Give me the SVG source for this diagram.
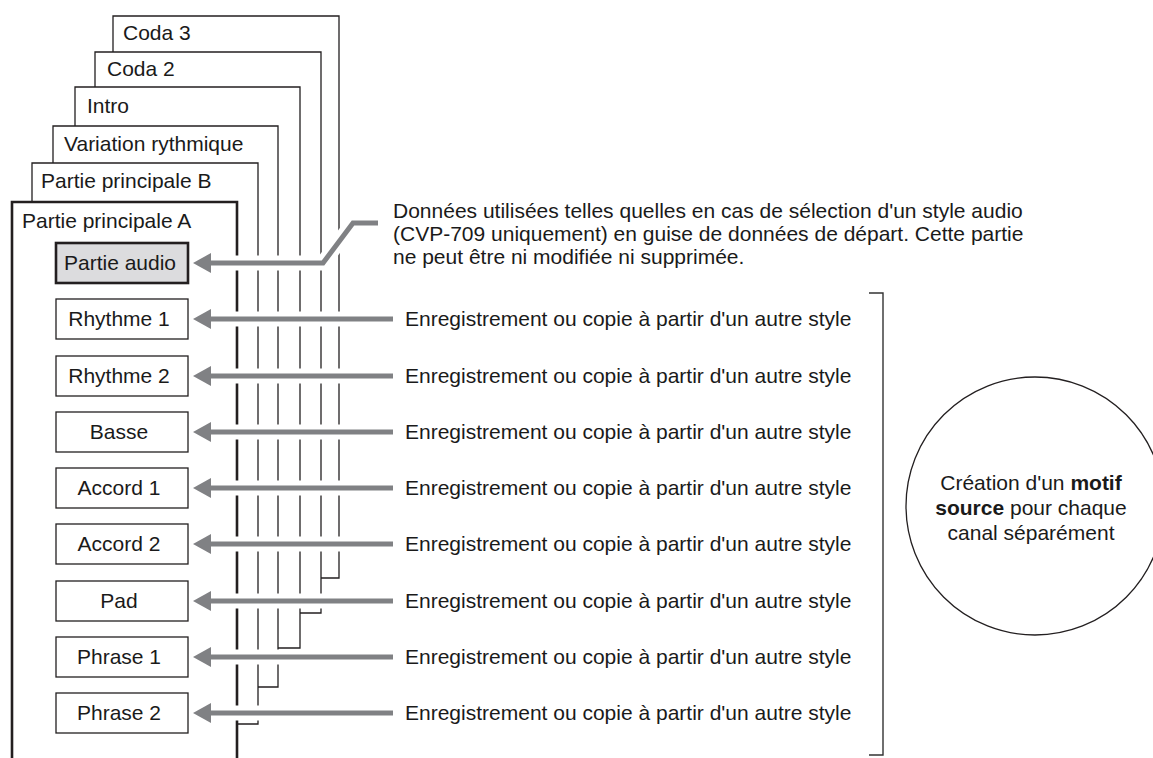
<svg xmlns="http://www.w3.org/2000/svg" width="1153" height="758" viewBox="0 0 1153 758">
<style>
  text { font-family: "Liberation Sans", Arial, sans-serif; font-size: 21px; fill: #1a1a1a; }
  .tab { fill: #ffffff; stroke: #231f20; stroke-width: 1.3; }
  .tabA { fill: #ffffff; stroke: #231f20; stroke-width: 2.6; }
  .box { fill: #ffffff; stroke: #231f20; stroke-width: 1.3; }
  .boxA { fill: #dcdcde; stroke: #231f20; stroke-width: 2.6; }
  .lbl { text-anchor: middle; }
  .halo { fill: none; stroke: #ffffff; stroke-width: 15; }
  .shaft { fill: none; stroke: #808184; stroke-width: 5; }
  .head { fill: #808184; }
  .bold { font-weight: bold; }
</style>
<rect width="1153" height="758" fill="#ffffff"/>

<g id="tab-coda3">
  <path class="tab" d="M113,52 V16 H339 V578 H321"/>
  <text x="123" y="40">Coda 3</text>
</g>
<g id="tab-coda2">
  <path class="tab" d="M95,87 V52 H321 V613 H300"/>
  <text x="107" y="76">Coda 2</text>
</g>
<g id="tab-intro">
  <path class="tab" d="M75,126 V87 H300 V648 H278"/>
  <text x="87" y="113">Intro</text>
</g>
<g id="tab-variation">
  <path class="tab" d="M53,163 V126 H278 V687 H258"/>
  <text x="64" y="151">Variation rythmique</text>
</g>
<g id="tab-principaleB">
  <path class="tab" d="M32,202 V163 H258 V724 H237"/>
  <text x="41" y="188">Partie principale B</text>
</g>
<g id="tab-principaleA">
  <path class="tabA" d="M12,760 V202 H237 V760"/>
  <text x="22" y="228">Partie principale A</text>
</g>

<g id="connectors">
  <path class="halo" d="M216,263 H323 L353,223 H378"/>
  <path class="halo" d="M216,319 H393 M216,376 H393 M216,432 H393 M216,488 H393 M216,544 H393 M216,601 H393 M216,657 H393 M216,713 H393"/>
  <path class="shaft" d="M205,263 H323 L353,223 H378"/>
  <path class="shaft" d="M205,319 H393 M205,376 H393 M205,432 H393 M205,488 H393 M205,544 H393 M205,601 H393 M205,657 H393 M205,713 H393"/>
  <path class="head" d="M193,263 L211,253 V273 Z"/>
  <path class="head" d="M193,319 L211,309 V329 Z"/>
  <path class="head" d="M193,376 L211,366 V386 Z"/>
  <path class="head" d="M193,432 L211,422 V442 Z"/>
  <path class="head" d="M193,488 L211,478 V498 Z"/>
  <path class="head" d="M193,544 L211,534 V554 Z"/>
  <path class="head" d="M193,601 L211,591 V611 Z"/>
  <path class="head" d="M193,657 L211,647 V667 Z"/>
  <path class="head" d="M193,713 L211,703 V723 Z"/>
  <path fill="none" stroke="#333333" stroke-width="1.4" d="M869,293 H883 V755 H869"/>
</g>

<g id="box-audio">
  <rect class="boxA" x="56" y="243" width="132" height="40"/>
  <text class="lbl" x="120" y="270">Partie audio</text>
</g>
<g id="box-rhythme1">
  <rect class="box" x="56" y="299" width="132" height="40"/>
  <text class="lbl" x="119" y="326">Rhythme 1</text>
</g>
<g id="box-rhythme2">
  <rect class="box" x="56" y="356" width="132" height="40"/>
  <text class="lbl" x="119" y="383">Rhythme 2</text>
</g>
<g id="box-basse">
  <rect class="box" x="56" y="412" width="132" height="40"/>
  <text class="lbl" x="119" y="439">Basse</text>
</g>
<g id="box-accord1">
  <rect class="box" x="56" y="468" width="132" height="40"/>
  <text class="lbl" x="119" y="495">Accord 1</text>
</g>
<g id="box-accord2">
  <rect class="box" x="56" y="524" width="132" height="40"/>
  <text class="lbl" x="119" y="551">Accord 2</text>
</g>
<g id="box-pad">
  <rect class="box" x="56" y="581" width="132" height="40"/>
  <text class="lbl" x="119" y="608">Pad</text>
</g>
<g id="box-phrase1">
  <rect class="box" x="56" y="637" width="132" height="40"/>
  <text class="lbl" x="119" y="664">Phrase 1</text>
</g>
<g id="box-phrase2">
  <rect class="box" x="56" y="693" width="132" height="40"/>
  <text class="lbl" x="119" y="720">Phrase 2</text>
</g>

<g id="note-audio">
  <text x="393" y="218">Données utilisées telles quelles en cas de sélection d'un style audio</text>
  <text x="393" y="241">(CVP-709 uniquement) en guise de données de départ. Cette partie</text>
  <text x="393" y="264">ne peut être ni modifiée ni supprimée.</text>
</g>
<g id="notes-record">
  <text x="405" y="326">Enregistrement ou copie à partir d'un autre style</text>
  <text x="405" y="383">Enregistrement ou copie à partir d'un autre style</text>
  <text x="405" y="439">Enregistrement ou copie à partir d'un autre style</text>
  <text x="405" y="495">Enregistrement ou copie à partir d'un autre style</text>
  <text x="405" y="551">Enregistrement ou copie à partir d'un autre style</text>
  <text x="405" y="608">Enregistrement ou copie à partir d'un autre style</text>
  <text x="405" y="664">Enregistrement ou copie à partir d'un autre style</text>
  <text x="405" y="720">Enregistrement ou copie à partir d'un autre style</text>
</g>

<g id="circle-source">
  <circle cx="1035" cy="506" r="129" fill="#ffffff" stroke="#231f20" stroke-width="1.3"/>
  <text class="lbl" x="1031" y="490">Création d'un <tspan class="bold">motif</tspan></text>
  <text class="lbl" x="1031" y="515"><tspan class="bold">source</tspan> pour chaque</text>
  <text class="lbl" x="1031" y="540">canal séparément</text>
</g>
</svg>
